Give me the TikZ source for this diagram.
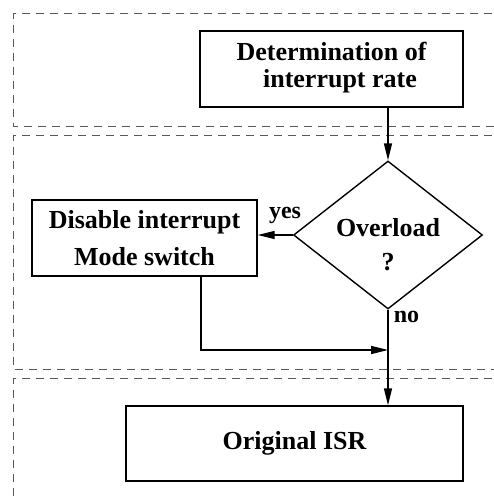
\documentclass[tikz,border=0pt]{standalone}
\usepackage{fontspec}
\setmainfont{Liberation Serif}
\usetikzlibrary{shapes.geometric,arrows.meta,calc}
\begin{document}
\begin{tikzpicture}[x=1pt,y=-1pt,
  region/.style={draw=black!65,line width=0.9pt,dash pattern=on 8pt off 6pt},
  box/.style={draw,line width=1.4pt,inner sep=0pt,align=center,font=\fontsize{26}{27}\selectfont\bfseries},
  lbl/.style={inner sep=0pt,anchor=base,font=\fontsize{24}{26}\selectfont\bfseries},
  conn/.style={line width=1.4pt,-{Triangle[length=17pt,width=8pt]}},
  plain/.style={line width=1.4pt}]
\clip (0,0) rectangle (494,498);
% dashed regions
\draw[region] (520,13) -- (13.5,13) -- (13.5,126) -- (520,126);
\draw[region] (520,135) -- (13.5,135) -- (13.5,369) -- (520,369);
\draw[region] (520,378) -- (13.5,378) -- (13.5,520);
% nodes
\node[box,minimum width=263pt,minimum height=76pt] (det) at (331.5,69)
  {\raisebox{3pt}{\begin{tabular}{@{}c@{}}Determination of\\[0pt]\hspace*{17pt}interrupt rate\end{tabular}}};
\node[draw,shape=diamond,line width=1.4pt,inner sep=0pt,minimum width=189pt,minimum height=148pt] (dia) at (388,235) {};
\node[inner sep=0pt,align=center,font=\fontsize{26}{34}\selectfont\bfseries] (diatext) at (388,245) {Overload\\?};
\node[box,minimum width=225pt,minimum height=76pt,font=\fontsize{26}{37}\selectfont\bfseries] (dis) at (144.5,238)
  {Disable interrupt\\Mode switch};
\node[box,minimum width=337pt,minimum height=75pt] (isr) at (294.5,443.5) {Original ISR};
\coordinate (join) at (388,350);
\coordinate (disout) at ($(dis.south)+(56.3,0)$);
% connectors
\draw[conn] (det.south -| dia.north) -- (dia.north);
\draw[conn] (dia.west) -- (dia.west -| dis.east);
\draw[conn] (dia.south) -- (isr.north -| dia.south);
\draw[conn] (disout) |- (join);
% labels
\node[lbl] (yes) at (285,218) {yes};
\node[lbl] (no) at (406.5,322) {no};
\end{tikzpicture}
\end{document}
